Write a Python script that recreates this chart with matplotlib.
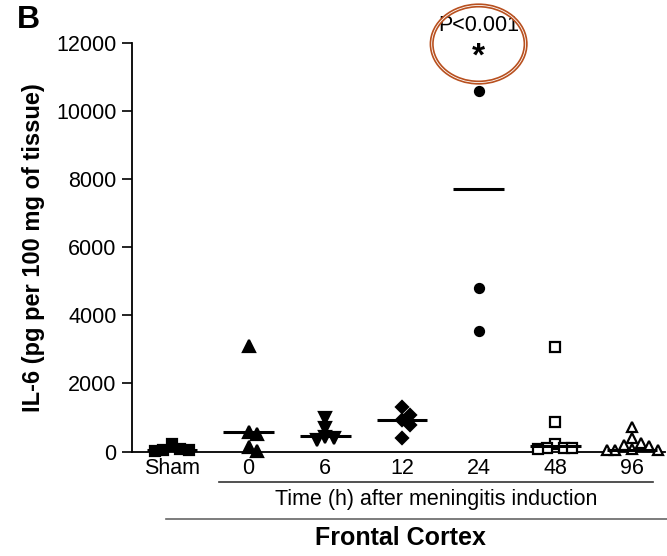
import numpy as np
import matplotlib
matplotlib.use("Agg")
import matplotlib.pyplot as plt
from matplotlib.patches import Ellipse
from matplotlib.lines import Line2D

plt.rcParams["font.family"] = ["Liberation Sans", "DejaVu Sans"]

# IL-6 in frontal cortex, pg per 100 mg of tissue
groups = ["Sham", "0", "6", "12", "24", "48", "96"]
sham = [230, 60, 40, 30, 20]
h0 = [3100, 560, 500, 120, 20]
h6 = [980, 680, 420, 390, 340]
h12 = [1300, 1060, 920, 770, 390]
h24 = [10600, 4800, 3550]
h48 = [3060, 880, 220, 110, 100, 90, 80]
h96 = [710, 390, 260, 200, 150, 60, 50, 40, 30]
medians = [50, 560, 470, 940, 7700, 170, 40]
sig_label = "P<0.001"

values = [sham, h0, h6, h12, h24, h48, h96]
markers = ["s", "^", "v", "D", "o", "s", "^"]
filled = [True, True, True, True, True, False, False]
msizes = [7.0, 8.5, 8.5, 6.5, 6.5, 6.5, 7.0]

W, H = 667, 556
fig = plt.figure(figsize=(W / 100, H / 100), dpi=100)
ax = fig.add_axes([132 / W, 1 - 451.5 / H, 533 / W, 408.5 / H])
ax.set_xlim(-0.52, 6.43)
ax.set_ylim(0, 12000)


def swarm_offsets(vals, xc, size_px):
    # spread points sideways so markers at similar heights don't overlap
    x_unit = ax.transData.transform((xc + 1, 0))[0] - ax.transData.transform((xc, 0))[0]
    placed = []
    offs = []
    for v in vals:
        py = ax.transData.transform((xc, v))[1]
        k = 0
        while True:
            step = ((k + 1) // 2) * (1 if k % 2 == 1 else -1)
            px = step * size_px
            if all(np.hypot(px - qx, py - qy) >= size_px for qx, qy in placed):
                break
            k += 1
        placed.append((px, py))
        offs.append(px / x_unit)
    return np.array(offs)


for i, vals in enumerate(values):
    offs = swarm_offsets(vals, i, 8.5)
    face = "black" if filled[i] else "white"
    ax.plot(i + offs, vals, linestyle="none", marker=markers[i], ms=msizes[i],
            mfc=face, mec="black", mew=1.6, clip_on=False, zorder=3)
    ax.plot([i - 0.33, i + 0.33], [medians[i]] * 2, color="black", lw=2.2,
            solid_capstyle="butt", zorder=4)

# axes styling
for side in ("top", "right"):
    ax.spines[side].set_visible(False)
for side in ("left", "bottom"):
    ax.spines[side].set_linewidth(1.3)
ax.set_yticks(np.arange(0, 12001, 2000))
ax.set_xticks(range(len(groups)))
ax.set_xticklabels(groups)
ax.tick_params(axis="y", length=7, width=1.2, labelsize=15.5, pad=4)
ax.tick_params(axis="x", length=0, labelsize=15.5, pad=5)
ax.set_ylabel("IL-6 (pg per 100 mg of tissue)", fontsize=17,
              fontweight="bold", labelpad=8)

# significance marker over the 24 h group
ax.text(4, 12500, sig_label, ha="center", va="center", fontsize=15.5, clip_on=False)
ax.text(4, 11600, "*", ha="center", va="center", fontsize=24,
        fontweight="bold", clip_on=False)
ring = dict(xy=(4.0, 11970), width=1.225, height=2265, fill=False, clip_on=False)
ax.add_patch(Ellipse(**ring, edgecolor="#b8501f", lw=3.0, zorder=5))
ax.add_patch(Ellipse(**ring, edgecolor="white", lw=0.6, zorder=6))

# grouping brackets beneath the x axis
fig.add_artist(Line2D([219 / W, 653 / W], [1 - 482 / H] * 2,
                      color="#333333", lw=1.2))
fig.text(436 / W, 1 - 499 / H, "Time (h) after meningitis induction",
         ha="center", va="center", fontsize=15.5)
fig.add_artist(Line2D([166 / W, 1.0], [1 - 519 / H] * 2,
                      color="#666666", lw=1.2))
fig.text(400 / W, 1 - 538 / H, "Frontal Cortex", ha="center", va="center",
         fontsize=18, fontweight="bold")

fig.text(17 / W, 1 - 20 / H, "B", ha="left", va="center", fontsize=23,
         fontweight="bold")

fig.savefig("out.png", dpi=100)
